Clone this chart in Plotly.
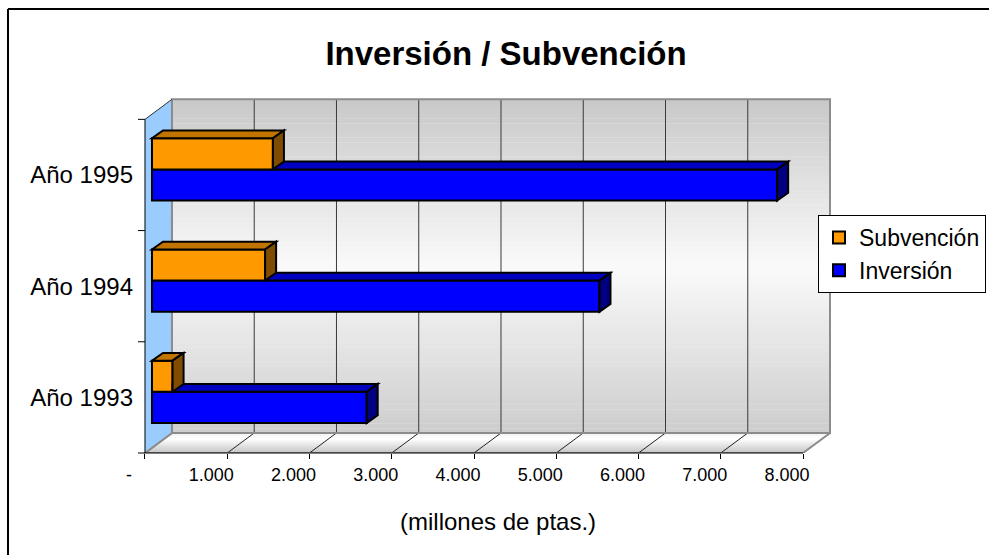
import plotly.graph_objects as go

# ---------------- data ----------------
years = ["Año 1993", "Año 1994", "Año 1995"]
subvencion = [250, 1375, 1470]
inversion = [2610, 5440, 7600]
x_tick_vals = [0, 1000, 2000, 3000, 4000, 5000, 6000, 7000, 8000]
x_tick_text = ["-", "1.000", "2.000", "3.000", "4.000", "5.000", "6.000", "7.000", "8.000"]
title_text = "<b>Inversión / Subvención</b>"
x_title = "(millones de ptas.)"

# ---------------- 3D geometry (data units) ----------------
XMAX = 8000          # axis maximum
DX, DY = 328, 0.18   # depth of the whole 3D box
BO = 85              # bar plane offset (x)
BYO = 0.05           # bar plane offset (y)
BDX, BDY = 134, 0.07 # bar depth
BH = 0.28            # bar thickness
FONT = "Liberation Sans, Arial, sans-serif"

ORANGE, ORANGE_TOP, ORANGE_SIDE = "#FF9900", "#C27400", "#7F4C00"
BLUE, BLUE_TOP, BLUE_SIDE = "#0000FF", "#0000C0", "#000080"

cats = list(range(len(years)))
y_inv = [c + BYO - BH / 2 for c in cats]
y_sub = [c + BYO + BH / 2 for c in cats]

# layout box in screen pixels
W, H = 989, 555
PLOT_L, PLOT_T, PLOT_W, PLOT_H = 138, 98, 693, 355
L, T = PLOT_L, PLOT_T
R = W - L - PLOT_W
B = H - T - PLOT_H


def px2paper_x(px):
    return (px - PLOT_L) / PLOT_W


def px2paper_y(py):
    return (PLOT_T + PLOT_H - py) / PLOT_H


def hex2rgb(h):
    h = h.lstrip("#")
    return tuple(int(h[i:i + 2], 16) for i in (0, 2, 4))


def grad(stops, t):
    for (t0, c0), (t1, c1) in zip(stops, stops[1:]):
        if t0 <= t <= t1:
            f = (t - t0) / (t1 - t0) if t1 > t0 else 0
            a, b = hex2rgb(c0), hex2rgb(c1)
            return "rgb(%d,%d,%d)" % tuple(round(a[k] + (b[k] - a[k]) * f) for k in range(3))
    return stops[-1][1]


def path(pts):
    return "M " + " L ".join("%f,%f" % p for p in pts) + " Z"


shapes = []
# back wall gradient bands
wall_stops = [(0, "#c8c8c8"), (0.5, "#fafafa"), (1, "#cdcdcd")]
N = 70
y_top, y_bot = 2.5 + DY, -0.5 + DY
h = (y_top - y_bot) / N
for i in range(N):
    hi = y_top - i * h
    lo = hi - h
    shapes.append(dict(type="rect", xref="x", yref="y", x0=DX, x1=XMAX + DX,
                       y0=lo - 0.003, y1=hi, layer="below", line=dict(width=0),
                       fillcolor=grad(wall_stops, (i + 0.5) / N)))
# back wall gridlines
for v in x_tick_vals[1:-1]:
    shapes.append(dict(type="line", xref="x", yref="y", x0=v + DX, x1=v + DX,
                       y0=y_bot, y1=y_top, layer="below", line=dict(color="#3a3a3a", width=1)))
# back wall border
shapes.append(dict(type="rect", xref="x", yref="y", x0=DX, x1=XMAX + DX, y0=y_bot, y1=y_top,
                   layer="below", line=dict(color="#8c8c8c", width=2)))
# floor gradient strips
floor_stops = [(0, "#f2f2f2"), (0.3, "#ffffff"), (1, "#c4c4c4")]
NF = 20
for i in range(NF):
    sa, sb = i / NF, (i + 1) / NF + 0.01
    oa, ob = 1 - sa, 1 - sb
    pts = [(oa * DX, -0.5 + oa * DY), (XMAX + oa * DX, -0.5 + oa * DY),
           (XMAX + ob * DX, -0.5 + ob * DY), (ob * DX, -0.5 + ob * DY)]
    shapes.append(dict(type="path", xref="x", yref="y", path=path(pts), layer="below",
                       line=dict(width=0), fillcolor=grad(floor_stops, (i + 0.5) / NF)))
# floor diagonals
for v in x_tick_vals[1:-1]:
    shapes.append(dict(type="line", xref="x", yref="y", x0=v, x1=v + DX, y0=-0.5, y1=-0.5 + DY,
                       layer="below", line=dict(color="#222222", width=1)))
# floor border
shapes.append(dict(type="path", xref="x", yref="y",
                   path=path([(0, -0.5), (XMAX, -0.5), (XMAX + DX, -0.5 + DY), (DX, -0.5 + DY)]),
                   layer="below", line=dict(color="#8c8c8c", width=2)))
# left wall
shapes.append(dict(type="path", xref="x", yref="y",
                   path=path([(0, -0.5), (0, 2.5), (DX, 2.5 + DY), (DX, -0.5 + DY)]),
                   layer="below", line=dict(width=0), fillcolor="#99CCFF"))
shapes.append(dict(type="line", xref="x", yref="y", x0=DX, x1=DX, y0=-0.5 + DY, y1=2.5 + DY,
                   layer="below", line=dict(color="#8c8c8c", width=2)))
shapes.append(dict(type="line", xref="x", yref="y", x0=0, x1=DX, y0=-0.5, y1=-0.5 + DY,
                   layer="below", line=dict(color="#8c8c8c", width=2)))
shapes.append(dict(type="line", xref="x", yref="y", x0=0, x1=DX, y0=2.5, y1=2.5 + DY,
                   layer="below", line=dict(color="#333333", width=1)))

# bar 3D faces (above the bar traces)
EDGE = dict(color="black", width=2)
for i in cats:
    vb = BO + inversion[i]
    vo = BO + subvencion[i]
    ybt = y_inv[i] + BH / 2
    ybb = y_inv[i] - BH / 2
    yot = y_sub[i] + BH / 2
    shapes.append(dict(type="path", xref="x", yref="y", layer="above", line=EDGE, fillcolor=BLUE_TOP,
                       path=path([(vo, ybt), (vb, ybt), (vb + BDX, ybt + BDY), (vo, ybt + BDY)])))
    shapes.append(dict(type="path", xref="x", yref="y", layer="above", line=EDGE, fillcolor=BLUE_SIDE,
                       path=path([(vb, ybb), (vb, ybt), (vb + BDX, ybt + BDY), (vb + BDX, ybb + BDY)])))
    shapes.append(dict(type="path", xref="x", yref="y", layer="above", line=EDGE, fillcolor=ORANGE_TOP,
                       path=path([(BO, yot), (vo, yot), (vo + BDX, yot + BDY), (BO + BDX, yot + BDY)])))
    shapes.append(dict(type="path", xref="x", yref="y", layer="above", line=EDGE, fillcolor=ORANGE_SIDE,
                       path=path([(vo, ybt), (vo, yot), (vo + BDX, yot + BDY), (vo + BDX, ybt + BDY)])))

# axes lines and category ticks
shapes.append(dict(type="line", xref="x", yref="paper", x0=-85, x1=XMAX, y0=0, y1=0,
                   layer="above", line=dict(color="black", width=1)))
shapes.append(dict(type="line", xref="x", yref="y", x0=0, x1=0, y0=-0.5, y1=2.5,
                   layer="above", line=dict(color="black", width=1)))
for b in [0.5, 1.5, 2.5]:
    shapes.append(dict(type="line", xref="x", yref="y", x0=-85, x1=0, y0=b, y1=b,
                       layer="above", line=dict(color="black", width=1)))

# outer chart border: only the left and top edges are inside the picture
shapes.append(dict(type="line", xref="paper", yref="paper",
                   x0=px2paper_x(8), x1=px2paper_x(W + 5), y0=px2paper_y(9), y1=px2paper_y(9),
                   layer="above", line=dict(color="black", width=2)))
shapes.append(dict(type="line", xref="paper", yref="paper",
                   x0=px2paper_x(8), x1=px2paper_x(8), y0=px2paper_y(9), y1=px2paper_y(H + 5),
                   layer="above", line=dict(color="black", width=2)))

fig = go.Figure()
fig.add_trace(go.Bar(name="Inversión", orientation="h", y=y_inv, x=inversion, base=[BO] * len(cats),
                     width=BH, marker=dict(color=BLUE, line=dict(color="black", width=2)),
                     legendrank=2))
fig.add_trace(go.Bar(name="Subvención", orientation="h", y=y_sub, x=subvencion, base=[BO] * len(cats),
                     width=BH, marker=dict(color=ORANGE, line=dict(color="black", width=2)),
                     legendrank=1))

fig.update_layout(
    width=W, height=H,
    margin=dict(l=L, r=R, t=T, b=B, autoexpand=False),
    paper_bgcolor="white", plot_bgcolor="rgba(0,0,0,0)",
    barmode="overlay",
    font=dict(family=FONT, color="black"),
    title=dict(text=title_text, font=dict(size=33, family=FONT, color="black"),
               x=506 / W, xref="container", xanchor="center",
               y=1 - 53 / H, yref="container", yanchor="middle"),
    xaxis=dict(range=[-85, 8340], tickvals=x_tick_vals, ticktext=x_tick_text,
               ticks="outside", ticklen=5, tickcolor="black", tickwidth=1,
               showgrid=False, zeroline=False, showline=False,
               tickfont=dict(size=18, family=FONT, color="black"),
               ticklabelshift=-16, ticklabelstandoff=0, automargin=False, fixedrange=True),
    yaxis=dict(range=[-0.5, 2.5 + DY + 0.012], tickvals=cats, ticktext=years,
               ticks="", showgrid=False, zeroline=False, showline=False,
               tickfont=dict(size=24, family=FONT, color="black"),
               ticklabelstandoff=4, automargin=False, fixedrange=True),
    legend=dict(x=px2paper_x(818), y=px2paper_y(215), xanchor="left", yanchor="top",
                bgcolor="white", bordercolor="black", borderwidth=1,
                font=dict(size=23, family=FONT, color="black")),
    shapes=shapes,
    annotations=[dict(text=x_title, xref="paper", yref="paper", x=px2paper_x(498), y=px2paper_y(521),
                      xanchor="center", yanchor="middle", showarrow=False,
                      font=dict(size=24, family=FONT, color="black"))],
)

fig.write_html("out.html", config={"displayModeBar": False},
               post_script="document.body.style.margin='0';document.body.style.overflow='hidden';")
